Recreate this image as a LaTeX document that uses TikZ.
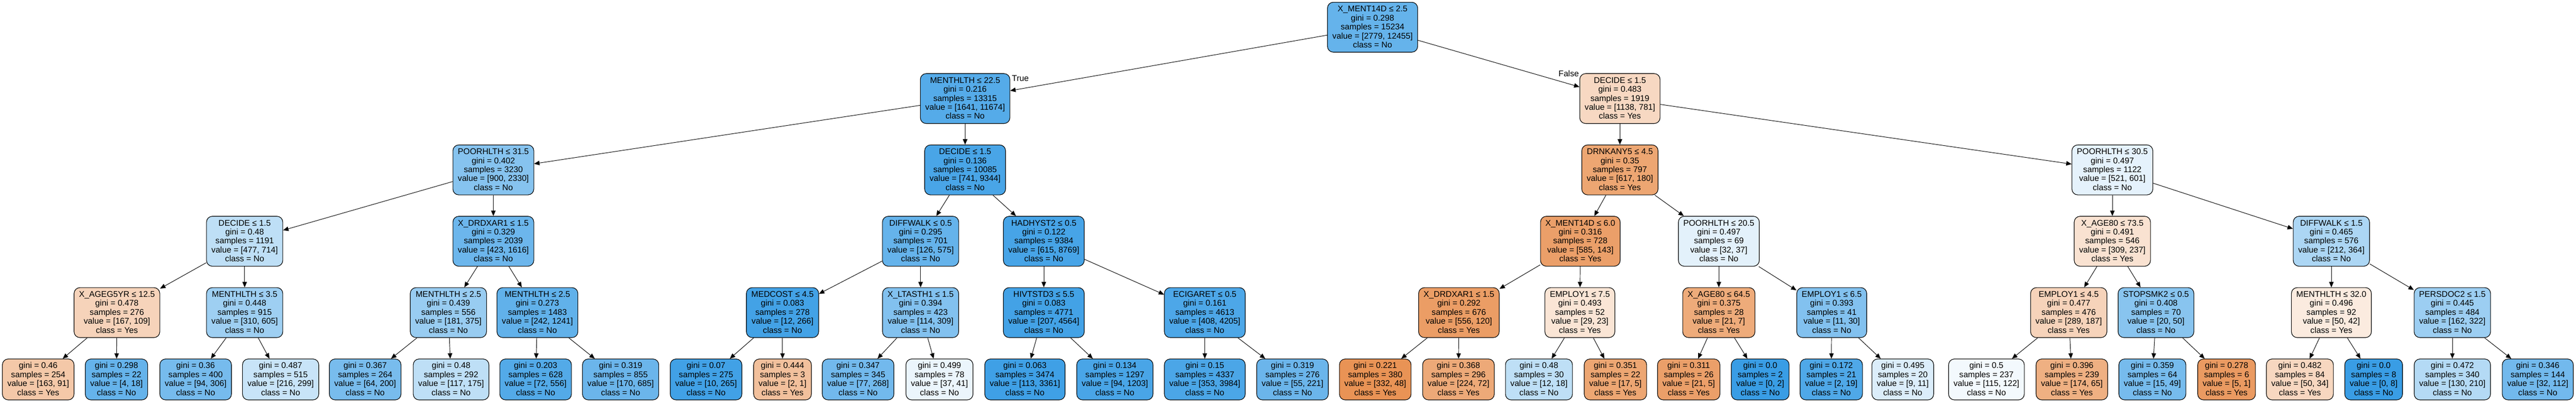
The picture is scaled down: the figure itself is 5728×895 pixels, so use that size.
\documentclass[tikz,border=0pt]{standalone}
\usepackage{fontspec}
\setmainfont{Liberation Sans}
\usetikzlibrary{arrows.meta}
\definecolor{cyes}{RGB}{229,129,57}
\definecolor{cno}{RGB}{57,157,229}
\newcommand{\dtstrut}{\rule[-4.5pt]{0pt}{20pt}}
\newcommand{\ndtext}[5]{\dtstrut #1\\\dtstrut gini = #2\\\dtstrut samples = #3\\\dtstrut value = [#4]\\\dtstrut class = #5}
\newcommand{\lftext}[4]{\dtstrut gini = #1\\\dtstrut samples = #2\\\dtstrut value = [#3]\\\dtstrut class = #4}
\tikzset{
  dt/.style={draw=black, line width=1.3pt, rounded corners=13pt, inner xsep=11pt, inner ysep=5.5pt,
    align=center, font=\fontsize{18.5}{20}\selectfont, text=black},
  yes/.style={dt, fill=cyes!#1!white},
  no/.style={dt, fill=cno!#1!white},
  edge/.style={draw=black, line width=1.1pt, -{Triangle[length=12pt,width=10pt]}},
  elabel/.style={font=\fontsize{18.5}{20}\selectfont, inner sep=0pt}
}
\begin{document}
\begin{tikzpicture}[x=1pt,y=-1pt]
\useasboundingbox (0,0) rectangle (5728,895);
\fill[white] (0,0) rectangle (5728,895);
% level 0
\node[no=78] (n0) at (3052,60.5) {\ndtext{X\_MENT14D ≤ 2.5}{0.298}{15234}{2779, 12455}{No}};
% level 1
\node[no=86] (n1) at (2146,219.1) {\ndtext{MENTHLTH ≤ 22.5}{0.216}{13315}{1641, 11674}{No}};
\node[yes=31] (n2) at (3602,219.1) {\ndtext{DECIDE ≤ 1.5}{0.483}{1919}{1138, 781}{Yes}};
% level 2
\node[no=61] (n3) at (1097,377.7) {\ndtext{POORHLTH ≤ 31.5}{0.402}{3230}{900, 2330}{No}};
\node[no=92] (n4) at (2146,377.7) {\ndtext{DECIDE ≤ 1.5}{0.136}{10085}{741, 9344}{No}};
\node[yes=71] (n5) at (3602,377.7) {\ndtext{DRNKANY5 ≤ 4.5}{0.35}{797}{617, 180}{Yes}};
\node[no=13] (n6) at (4697,377.7) {\ndtext{POORHLTH ≤ 30.5}{0.497}{1122}{521, 601}{No}};
% level 3
\node[no=33] (n7) at (544,536.3) {\ndtext{DECIDE ≤ 1.5}{0.48}{1191}{477, 714}{No}};
\node[no=74] (n8) at (1097,536.3) {\ndtext{X\_DRDXAR1 ≤ 1.5}{0.329}{2039}{423, 1616}{No}};
\node[no=78] (n9) at (2047,536.3) {\ndtext{DIFFWALK ≤ 0.5}{0.295}{701}{126, 575}{No}};
\node[no=93] (n10) at (2321,536.3) {\ndtext{HADHYST2 ≤ 0.5}{0.122}{9384}{615, 8769}{No}};
\node[yes=76] (n11) at (3514,536.3) {\ndtext{X\_MENT14D ≤ 6.0}{0.316}{728}{585, 143}{Yes}};
\node[no=14] (n12) at (3822,536.3) {\ndtext{POORHLTH ≤ 20.5}{0.497}{69}{32, 37}{No}};
\node[yes=23] (n13) at (4697,536.3) {\ndtext{X\_AGE80 ≤ 73.5}{0.491}{546}{309, 237}{Yes}};
\node[no=42] (n14) at (5184,536.3) {\ndtext{DIFFWALK ≤ 1.5}{0.465}{576}{212, 364}{No}};
% level 4
\node[yes=35] (m1) at (260,694.9) {\ndtext{X\_AGEG5YR ≤ 12.5}{0.478}{276}{167, 109}{Yes}};
\node[no=49] (m2) at (544,694.9) {\ndtext{MENTHLTH ≤ 3.5}{0.448}{915}{310, 605}{No}};
\node[no=52] (m3) at (997,694.9) {\ndtext{MENTHLTH ≤ 2.5}{0.439}{556}{181, 375}{No}};
\node[no=80] (m4) at (1195,694.9) {\ndtext{MENTHLTH ≤ 2.5}{0.273}{1483}{242, 1241}{No}};
\node[no=95] (m5) at (1740,694.9) {\ndtext{MEDCOST ≤ 4.5}{0.083}{278}{12, 266}{No}};
\node[no=63] (m6) at (2047,694.9) {\ndtext{X\_LTASTH1 ≤ 1.5}{0.394}{423}{114, 309}{No}};
\node[no=95] (m7) at (2321,694.9) {\ndtext{HIVTSTD3 ≤ 5.5}{0.083}{4771}{207, 4564}{No}};
\node[no=90] (m8) at (2679,694.9) {\ndtext{ECIGARET ≤ 0.5}{0.161}{4613}{408, 4205}{No}};
\node[yes=78] (m9) at (3244,694.9) {\ndtext{X\_DRDXAR1 ≤ 1.5}{0.292}{676}{556, 120}{Yes}};
\node[yes=21] (m10) at (3513,694.9) {\ndtext{EMPLOY1 ≤ 7.5}{0.493}{52}{29, 23}{Yes}};
\node[yes=67] (m11) at (3822,694.9) {\ndtext{X\_AGE80 ≤ 64.5}{0.375}{28}{21, 7}{Yes}};
\node[no=63] (m12) at (4073,694.9) {\ndtext{EMPLOY1 ≤ 6.5}{0.393}{41}{11, 30}{No}};
\node[yes=35] (m13) at (4600,694.9) {\ndtext{EMPLOY1 ≤ 4.5}{0.477}{476}{289, 187}{Yes}};
\node[no=60] (m14) at (4794,694.9) {\ndtext{STOPSMK2 ≤ 0.5}{0.408}{70}{20, 50}{No}};
\node[yes=16] (m15) at (5184,694.9) {\ndtext{MENTHLTH ≤ 32.0}{0.496}{92}{50, 42}{Yes}};
\node[no=50] (m16) at (5453,694.9) {\ndtext{PERSDOC2 ≤ 1.5}{0.445}{484}{162, 322}{No}};
% leaves
\node[yes=44] (l1) at (85,843.5) {\lftext{0.46}{254}{163, 91}{Yes}};
\node[no=78] (l2) at (259,843.5) {\lftext{0.298}{22}{4, 18}{No}};
\node[no=69] (l3) at (435,843.5) {\lftext{0.36}{400}{94, 306}{No}};
\node[no=28] (l4) at (624,843.5) {\lftext{0.487}{515}{216, 299}{No}};
\node[no=68] (l5) at (812,843.5) {\lftext{0.367}{264}{64, 200}{No}};
\node[no=33] (l6) at (1003,843.5) {\lftext{0.48}{292}{117, 175}{No}};
\node[no=87] (l7) at (1191,843.5) {\lftext{0.203}{628}{72, 556}{No}};
\node[no=75] (l8) at (1380,843.5) {\lftext{0.319}{855}{170, 685}{No}};
\node[no=96] (l9) at (1570,843.5) {\lftext{0.07}{275}{10, 265}{No}};
\node[yes=50] (l10) at (1740,843.5) {\lftext{0.444}{3}{2, 1}{Yes}};
\node[no=71] (l11) at (1908,843.5) {\lftext{0.347}{345}{77, 268}{No}};
\node[no=10] (l12) at (2089,843.5) {\lftext{0.499}{78}{37, 41}{No}};
\node[no=97] (l13) at (2279,843.5) {\lftext{0.063}{3474}{113, 3361}{No}};
\node[no=92] (l14) at (2479,843.5) {\lftext{0.134}{1297}{94, 1203}{No}};
\node[no=91] (l15) at (2679,843.5) {\lftext{0.15}{4337}{353, 3984}{No}};
\node[no=75] (l16) at (2874,843.5) {\lftext{0.319}{276}{55, 221}{No}};
\node[yes=86] (l17) at (3058,843.5) {\lftext{0.221}{380}{332, 48}{Yes}};
\node[yes=68] (l18) at (3243,843.5) {\lftext{0.368}{296}{224, 72}{Yes}};
\node[no=33] (l19) at (3422,843.5) {\lftext{0.48}{30}{12, 18}{No}};
\node[yes=71] (l20) at (3592,843.5) {\lftext{0.351}{22}{17, 5}{Yes}};
\node[yes=76] (l21) at (3755,843.5) {\lftext{0.311}{26}{21, 5}{Yes}};
\node[no=100] (l22) at (3914,843.5) {\lftext{0.0}{2}{0, 2}{No}};
\node[no=89] (l23) at (4072,843.5) {\lftext{0.172}{21}{2, 19}{No}};
\node[no=18] (l24) at (4231,843.5) {\lftext{0.495}{20}{9, 11}{No}};
\node[no=6] (l25) at (4417,843.5) {\lftext{0.5}{237}{115, 122}{No}};
\node[yes=63] (l26) at (4607,843.5) {\lftext{0.396}{239}{174, 65}{Yes}};
\node[no=69] (l27) at (4786,843.5) {\lftext{0.359}{64}{15, 49}{No}};
\node[yes=80] (l28) at (4951,843.5) {\lftext{0.278}{6}{5, 1}{Yes}};
\node[yes=32] (l29) at (5114,843.5) {\lftext{0.482}{84}{50, 34}{Yes}};
\node[no=100] (l30) at (5278,843.5) {\lftext{0.0}{8}{0, 8}{No}};
\node[no=38] (l31) at (5453,843.5) {\lftext{0.472}{340}{130, 210}{No}};
\node[no=71] (l32) at (5643,843.5) {\lftext{0.346}{144}{32, 112}{No}};
% edges
\draw[edge] (n0) -- (n1);
\draw[edge] (n0) -- (n2);
\node[elabel, anchor=base west] (tl) at (2250,180) {True};
\node[elabel, anchor=base east] (fl) at (3511,170) {False};
\draw[edge] (n1) -- (n3);
\draw[edge] (n1) -- (n4);
\draw[edge] (n2) -- (n5);
\draw[edge] (n2) -- (n6);
\draw[edge] (n3) -- (n7);
\draw[edge] (n3) -- (n8);
\draw[edge] (n4) -- (n9);
\draw[edge] (n4) -- (n10);
\draw[edge] (n5) -- (n11);
\draw[edge] (n5) -- (n12);
\draw[edge] (n6) -- (n13);
\draw[edge] (n6) -- (n14);
\draw[edge] (n7) -- (m1);
\draw[edge] (n7) -- (m2);
\draw[edge] (n8) -- (m3);
\draw[edge] (n8) -- (m4);
\draw[edge] (n9) -- (m5);
\draw[edge] (n9) -- (m6);
\draw[edge] (n10) -- (m7);
\draw[edge] (n10) -- (m8);
\draw[edge] (n11) -- (m9);
\draw[edge] (n11) -- (m10);
\draw[edge] (n12) -- (m11);
\draw[edge] (n12) -- (m12);
\draw[edge] (n13) -- (m13);
\draw[edge] (n13) -- (m14);
\draw[edge] (n14) -- (m15);
\draw[edge] (n14) -- (m16);
\foreach \p/\a/\b in {m1/l1/l2, m2/l3/l4, m3/l5/l6, m4/l7/l8, m5/l9/l10, m6/l11/l12, m7/l13/l14, m8/l15/l16, m9/l17/l18, m10/l19/l20, m11/l21/l22, m12/l23/l24, m13/l25/l26, m14/l27/l28, m15/l29/l30, m16/l31/l32}{
  \draw[edge] (\p) -- (\a);
  \draw[edge] (\p) -- (\b);
}
\end{tikzpicture}
\end{document}
